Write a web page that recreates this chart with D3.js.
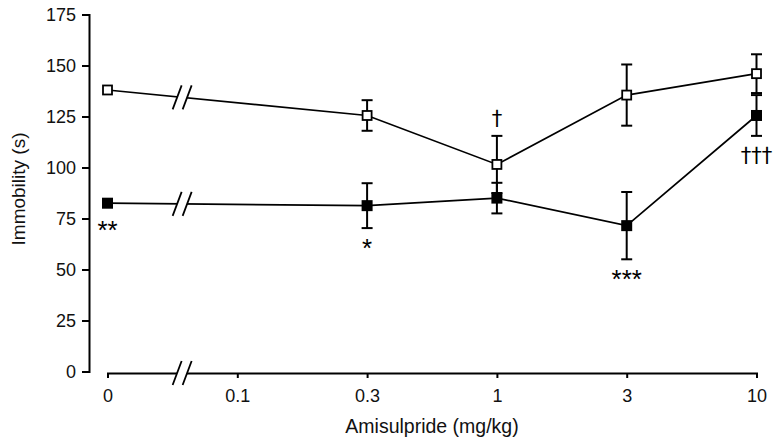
<!DOCTYPE html>
<html><head><meta charset="utf-8">
<script src="https://cdn.jsdelivr.net/npm/d3@7"></script>
<style>body{margin:0;background:#fff}</style>
</head><body>
<svg id="c" width="773" height="443"></svg>
<script>
// ---- data ----
const doses = ["0", "0.1", "0.3", "1", "3", "10"];
const yTicks = [0, 25, 50, 75, 100, 125, 150, 175];
const openDoses = ["0", "0.3", "1", "3", "10"];
const openMean = [138, 125.5, 101.5, 135.5, 146];
const openSem = [0, 7.5, 14, 15, 9.5];
const filledDoses = ["0", "0.3", "1", "3", "10"];
const filledMean = [82.5, 81.3, 85, 71.5, 125.5];
const filledSem = [0, 11, 7.5, 16.5, 10];
const annotDose = ["0", "0.3", "3", "1", "10"];
const annotSeries = ["filled", "filled", "filled", "open", "filled"];
const annotText = ["**", "*", "***", "\u2020", "\u2020\u2020\u2020"];
const annotSide = ["below", "below", "below", "above", "below"];

const svg = d3.select("#c");
const font = "Liberation Sans, Arial, Helvetica, sans-serif";

const x = d3.scalePoint().domain(doses).range([107.5, 756.5]);
const y = d3.scaleLinear().domain([0, 175]).range([371.5, 14.5]);

// y axis
const ya = svg.append("g").attr("transform", "translate(89,0)")
  .call(d3.axisLeft(y).tickValues(yTicks).tickSize(7).tickPadding(6));
ya.selectAll("path,line").attr("stroke", "#000").attr("stroke-width", 2);
ya.selectAll("text").attr("font-family", font).attr("font-size", 18).attr("fill", "#111");

// x axis
const xAxisY = 373;
const xa = svg.append("g").attr("transform", `translate(0,${xAxisY})`)
  .call(d3.axisBottom(x).tickSize(5).tickSizeOuter(5).tickPadding(11));
xa.selectAll("path,line").attr("stroke", "#000").attr("stroke-width", 2);
xa.selectAll("text").attr("font-family", font).attr("font-size", 18).attr("fill", "#111");

// axis labels
svg.append("text").attr("transform", "translate(25,189) rotate(-90)")
  .attr("text-anchor", "middle").attr("font-family", font).attr("font-size", 19)
  .attr("fill", "#111").text("Immobility (s)");
svg.append("text").attr("x", 432).attr("y", 433)
  .attr("text-anchor", "middle").attr("font-family", font).attr("font-size", 19.5)
  .attr("fill", "#111").text("Amisulpride (mg/kg)");

const series = {
  open: openDoses.map((d, i) => ({ d, m: openMean[i], s: openSem[i] })),
  filled: filledDoses.map((d, i) => ({ d, m: filledMean[i], s: filledSem[i] }))
};

const breakX = x("0") + 0.575 * x.step();
function drawBreak(cx, cy) {
  const h = 12, sl = 4.5, gap = 5;
  const g = svg.append("g");
  g.append("polygon")
    .attr("points", [[cx - gap + sl, cy - h + 3], [cx + gap + sl, cy - h + 3], [cx + gap - sl, cy + h - 3], [cx - gap - sl, cy + h - 3]].map(p => p.join(",")).join(" "))
    .attr("fill", "#fff");
  [-gap, gap].forEach(o => {
    g.append("line").attr("x1", cx + o - sl).attr("y1", cy + h)
      .attr("x2", cx + o + sl).attr("y2", cy - h)
      .attr("stroke", "#000").attr("stroke-width", 1.8);
  });
}

const line = d3.line().x(p => x(p.d)).y(p => y(p.m));
Object.keys(series).forEach(k => {
  const pts = series[k];
  svg.append("path").attr("d", line(pts)).attr("fill", "none")
    .attr("stroke", "#000").attr("stroke-width", 1.7);
});
// breaks on data lines
Object.keys(series).forEach(k => {
  const p0 = series[k][0], p1 = series[k][1];
  const t = (breakX - x(p0.d)) / (x(p1.d) - x(p0.d));
  drawBreak(breakX, y(p0.m) + t * (y(p1.m) - y(p0.m)));
});
drawBreak(breakX, xAxisY);

// error bars
Object.keys(series).forEach(k => {
  series[k].filter(p => p.s > 0).forEach(p => {
    const cx = x(p.d);
    const g = svg.append("g").attr("stroke", "#000").attr("stroke-width", 2);
    g.append("line").attr("x1", cx).attr("x2", cx).attr("y1", y(p.m - p.s)).attr("y2", y(p.m + p.s));
    [p.m - p.s, p.m + p.s].forEach(v => {
      g.append("line").attr("x1", cx - 5.5).attr("x2", cx + 5.5).attr("y1", y(v)).attr("y2", y(v));
    });
  });
});

// markers
series.open.forEach(p => {
  svg.append("rect").attr("x", x(p.d) - 4.5).attr("y", y(p.m) - 4.5)
    .attr("width", 9).attr("height", 9).attr("fill", "#fff")
    .attr("stroke", "#000").attr("stroke-width", 1.8);
});
series.filled.forEach(p => {
  svg.append("rect").attr("x", x(p.d) - 5.5).attr("y", y(p.m) - 5.5)
    .attr("width", 11).attr("height", 11).attr("fill", "#000");
});

// significance annotations
annotText.forEach((txt, i) => {
  const p = series[annotSeries[i]].find(q => q.d === annotDose[i]);
  const isStar = txt.indexOf("*") >= 0;
  let cy;
  if (annotSide[i] === "below") {
    const end = p.s > 0 ? y(p.m - p.s) : y(p.m) + 7;
    cy = end + (isStar ? 14 : 18);
  } else {
    cy = y(p.m + p.s) - 19;
  }
  svg.append("text").attr("x", x(p.d)).attr("y", isStar ? cy + 15 : cy + 8)
    .attr("text-anchor", "middle")
    .attr("font-family", isStar ? font : "DejaVu Sans, sans-serif")
    .attr("font-size", isStar ? 26 : 21).attr("fill", "#000")
    .style("opacity", 0.999).style("text-rendering", "geometricPrecision")
    .text(txt);
});
</script>
</body></html>
